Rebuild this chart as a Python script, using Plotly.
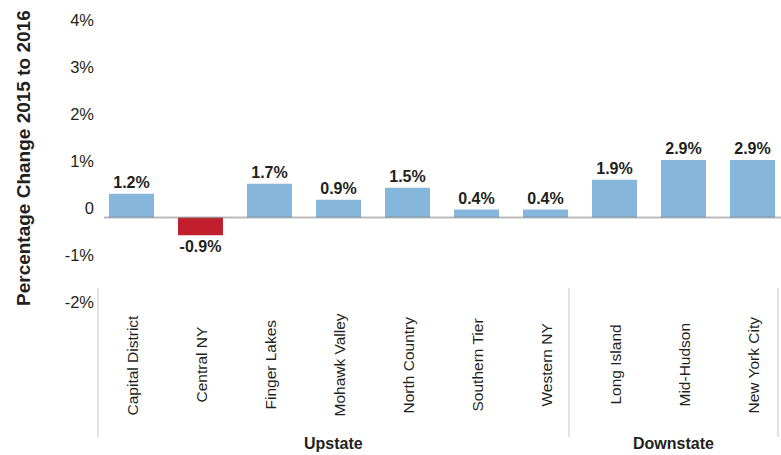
import plotly.graph_objects as go

regions = ["Capital District", "Central NY", "Finger Lakes", "Mohawk Valley", "North Country",
           "Southern Tier", "Western NY", "Long Island", "Mid-Hudson", "New York City"]
pct_change = [1.2, -0.9, 1.7, 0.9, 1.5, 0.4, 0.4, 1.9, 2.9, 2.9]
groups = ["Upstate", "Downstate"]
tick_vals = [-2, -1, 0, 1, 2, 3, 4]
tick_text = ["-2%", "-1%", "0", "1%", "2%", "3%", "4%"]

BLUE = "#86B6DB"
RED = "#C11F2E"
TXT = "#231F20"
FONT = "Liberation Sans, Arial, sans-serif"

xs = list(range(len(regions)))
colors = [RED if v < 0 else BLUE for v in pct_change]

fig = go.Figure()
fig.add_trace(go.Bar(
    x=xs, y=pct_change, yaxis="y2",
    marker=dict(color=colors, line=dict(width=0)),
    width=0.652,
    text=[f"{v:.1f}%" for v in pct_change],
    textposition="outside",
    textfont=dict(family=FONT, size=16, color=TXT, weight="bold"),
    cliponaxis=False,
    hoverinfo="skip",
))
# invisible trace to anchor the visible percentage axis
fig.add_trace(go.Scatter(x=[0], y=[0], mode="markers", marker=dict(opacity=0),
                         showlegend=False, hoverinfo="skip"))

annotations = []
for i, name in enumerate(regions):
    annotations.append(dict(
        x=i, xref="x", y=1 - 365 / 455, yref="paper", text=name, textangle=-90,
        showarrow=False, xanchor="center", yanchor="middle",
        font=dict(family=FONT, size=15.5, color=TXT)))

# group boundaries in x data units
bounds = [-0.486, 6.34, 9.37]
shapes = []
for b in bounds:
    shapes.append(dict(type="line", xref="x", yref="paper", x0=b, x1=b,
                       y0=1 - 288 / 455, y1=1 - 437 / 455,
                       line=dict(color="#C8C8C8", width=1)))
for g, a, b in zip(groups, bounds[:-1], bounds[1:]):
    annotations.append(dict(
        x=(a + b) / 2, xref="x", y=1 - 443 / 455, yref="paper", text=g,
        showarrow=False, xanchor="center", yanchor="middle",
        font=dict(family=FONT, size=16, color=TXT, weight="bold")))

annotations.append(dict(
    x=(23 - 97) / 684, xref="paper", y=1 - 158 / 455, yref="paper",
    text="Percentage Change 2015 to 2016", textangle=-90, showarrow=False,
    xanchor="center", yanchor="middle",
    font=dict(family=FONT, size=19, color=TXT, weight="bold")))

# zero baseline
shapes.append(dict(type="line", xref="paper", yref="y2", x0=(104 - 97) / 684, x1=1,
                   y0=0, y1=0, layer="above",
                   line=dict(color="rgba(120,120,120,0.5)", width=2)))

fig.update_layout(
    width=781, height=455,
    margin=dict(l=97, r=0, t=0, b=0),
    paper_bgcolor="white", plot_bgcolor="white",
    showlegend=False,
    xaxis=dict(range=[-0.5, 9.413], showticklabels=False, showgrid=False,
               zeroline=False, showline=False, fixedrange=True),
    yaxis=dict(range=[-5.255, 4.4255], tickvals=tick_vals, ticktext=tick_text,
               showgrid=False, zeroline=False, showline=False, ticks="",
               tickfont=dict(family=FONT, size=16.5, color=TXT),
               ticklabelstandoff=2, fixedrange=True),
    yaxis2=dict(range=[-11.99, 10.98], overlaying="y", visible=False,
                showgrid=False, zeroline=False, fixedrange=True),
    annotations=annotations,
    shapes=shapes,
    font=dict(family=FONT, color=TXT),
)

fig.write_html("out.html",
               config={"displayModeBar": False, "staticPlot": True},
               post_script="document.body.style.margin='0';document.body.style.overflow='hidden';")
